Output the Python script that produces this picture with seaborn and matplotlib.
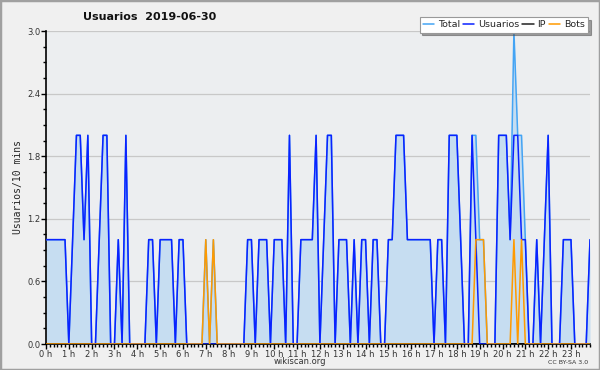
# %% Import libraries
import matplotlib

matplotlib.use("Agg")
import matplotlib.pyplot as plt
import numpy as np
import pandas as pd
import seaborn as sns
from matplotlib.patches import Rectangle
from matplotlib.ticker import FixedLocator, FormatStrFormatter, MultipleLocator

# %% Data: one value per 10 minutes, 00:00 -> 23:50
usuarios = [
    1, 1, 1, 1, 1, 1, 0, 1, 2, 2, 1, 2,   # 0 h - 1 h
    0, 0, 1, 2, 2, 0, 0, 1, 0, 2, 0, 0,   # 2 h - 3 h
    0, 0, 0, 1, 1, 0, 1, 1, 1, 1, 0, 1,   # 4 h - 5 h
    1, 0, 0, 0, 0, 0, 0, 0, 0, 0, 0, 0,   # 6 h - 7 h
    0, 0, 0, 0, 0, 1, 1, 0, 1, 1, 1, 0,   # 8 h - 9 h
    1, 1, 1, 0, 2, 0, 0, 1, 1, 1, 1, 2,   # 10 h - 11 h
    0, 1, 2, 2, 0, 1, 1, 1, 0, 1, 0, 1,   # 12 h - 13 h
    1, 0, 1, 1, 0, 0, 1, 1, 2, 2, 2, 1,   # 14 h - 15 h
    1, 1, 1, 1, 1, 1, 0, 1, 1, 0, 2, 2,   # 16 h - 17 h
    2, 1, 0, 0, 2, 1, 0, 0, 0, 0, 0, 2,   # 18 h - 19 h
    2, 2, 1, 2, 2, 1, 1, 0, 0, 1, 0, 1,   # 20 h - 21 h
    2, 0, 0, 0, 1, 1, 1, 0, 0, 0, 0, 1,   # 22 h - 23 h
]
bots = [0] * 144
for i in [42, 44, 113, 114, 115, 123, 125]:
    bots[i] = 1
ip = [0] * 144

hour_labels = [f"{h} h" for h in range(24)]

df = pd.DataFrame({"usuarios": usuarios, "ip": ip, "bots": bots})
df["total"] = df["usuarios"] + df["ip"] + df["bots"]
df["hour"] = np.arange(len(df)) / 6

# %% Plot
sns.set_theme(style="white")
plt.rcParams["font.family"] = ["DejaVu Sans"]

fig = plt.figure(figsize=(6, 3.7), dpi=100, facecolor="#f0f0f0")
ax = fig.add_axes([46 / 600, 26 / 370, 544 / 600, 313 / 370])
ax.set_facecolor("#eceef0")

ax.fill_between(df["hour"], df["total"], color="#c6ddf1", lw=0, zorder=1)
sns.lineplot(data=df, x="hour", y="total", color="#44a4f4", lw=1.1, label="Total", ax=ax, zorder=3)
sns.lineplot(data=df, x="hour", y="usuarios", color="#0a22ff", lw=1.1, label="Usuarios", ax=ax, zorder=4)
sns.lineplot(data=df, x="hour", y="ip", color="#222222", lw=1.1, label="IP", ax=ax, zorder=2)
sns.lineplot(data=df, x="hour", y="bots", color="#ff9a00", lw=1.1, label="Bots", ax=ax, zorder=5)

ax.set_xlim(0, 143 / 6)
ax.set_ylim(0, 3)
ax.xaxis.set_major_locator(FixedLocator(range(24)))
ax.set_xticklabels(hour_labels)
ax.xaxis.set_minor_locator(MultipleLocator(1 / 6))
ax.yaxis.set_major_locator(MultipleLocator(0.6))
ax.yaxis.set_minor_locator(MultipleLocator(0.15))
ax.yaxis.set_major_formatter(FormatStrFormatter("%.1f"))
ax.grid(axis="y", color="#c8c8c8", lw=0.9)
ax.set_axisbelow(True)

for side in ["top", "right"]:
    ax.spines[side].set_visible(False)
for side in ["left", "bottom"]:
    ax.spines[side].set_color("black")
    ax.spines[side].set_linewidth(1.2)
ax.tick_params(axis="both", which="major", direction="out", length=3.5, width=1,
               color="black", labelsize=6, labelcolor="#333333", pad=0.5)
ax.tick_params(axis="both", which="minor", direction="out", length=2.5, width=1, color="black")
ax.tick_params(axis="x", which="both", bottom=True)
ax.tick_params(axis="y", which="both", left=True)

ax.set_xlabel("")
ax.set_ylabel("Usuarios/10 mins", family="DejaVu Sans Mono", fontsize=7, labelpad=3)

fig.text(150 / 600, 1 - 17 / 370, "Usuarios  2019-06-30", ha="center", va="center",
         fontsize=8, fontweight="bold", color="#111111")
fig.text(300 / 600, 1 - 362 / 370, "wikiscan.org", ha="center", va="center",
         fontsize=6, color="#333333")
fig.text(588 / 600, 1 - 362 / 370, "CC BY-SA 3.0", ha="right", va="center",
         fontsize=4.5, color="#333333")

leg = ax.legend(loc="upper right", bbox_to_anchor=(588 / 600, 1 - 17 / 370),
                bbox_transform=fig.transFigure, ncol=4, fontsize=6.8, frameon=True,
                fancybox=False, shadow=True, handlelength=1.2, handletextpad=0.4,
                columnspacing=0.3, borderpad=0.35, borderaxespad=0)
leg.get_frame().set_edgecolor("#999999")
leg.get_frame().set_linewidth(0.8)

fig.patches.append(Rectangle((0, 0), 1, 1, transform=fig.transFigure, fill=False,
                             edgecolor="#a0a0a0", lw=2.5))

fig.savefig("out.png", dpi=100)
